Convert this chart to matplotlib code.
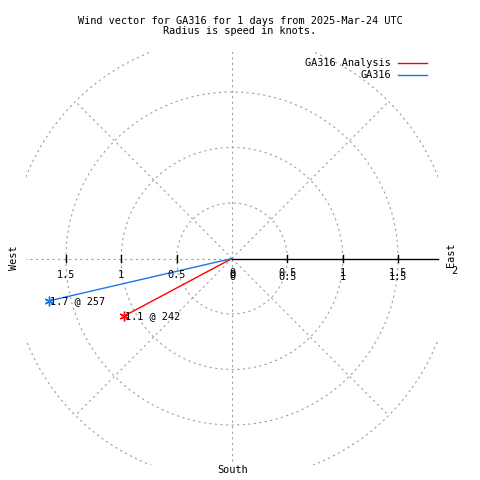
import numpy as np
import matplotlib
matplotlib.use("Agg")
import matplotlib.pyplot as plt
import matplotlib.transforms as mtransforms

# ---- data ----
series_names = ["GA316 Analysis", "GA316"]
speeds = [1.1, 1.7]          # knots
directions = [242, 257]      # degrees, clockwise from north
series_colors = ["#ff0000", "#1a78e6"]
ring_radii = [0.5, 1.0, 1.5, 2.0]
spoke_angles = [0, 45, 90, 135, 180, 225, 270, 315]
tick_values = [0.5, 1.0, 1.5]
left_labels = ["0", "0.5", "1", "1.5"]
left_label_vals = [0.0, 0.5, 1.0, 1.5]
right_labels = ["0", "0.5", "1", "1.5"]
right_label_vals = [0.0, 0.5, 1.0, 1.5]
title_text = "Wind vector for GA316 for 1 days from 2025-Mar-24 UTC\nRadius is speed in knots."

FONT = "DejaVu Sans Mono"
FS = 7.4
GRAY = "#a0a0a0"
LIM = 1.86

fig = plt.figure(figsize=(4.8, 4.8), dpi=100)
ax = fig.add_axes([26 / 480, 15 / 480, 412 / 480, 413 / 480])
ax.set_xlim(-LIM, LIM)
ax.set_ylim(-LIM, LIM)
ax.axis("off")

dash = (0, (2, 3))
th = np.linspace(0, 2 * np.pi, 721)
for r in ring_radii:
    ax.plot(r * np.cos(th), r * np.sin(th), color=GRAY, lw=0.8, linestyle=dash)
for a in spoke_angles:
    if a == 0:
        continue
    rad = np.deg2rad(a)
    ax.plot([0, 2 * np.cos(rad)], [0, 2 * np.sin(rad)], color=GRAY, lw=0.8, linestyle=dash)

# solid east axis
ax.plot([0, LIM], [0, 0], color="black", lw=1.0, clip_on=False)
# ticks
for t in tick_values:
    for s in (-1, 1):
        ax.plot([s * t, s * t], [-0.036, 0.036], color="black", lw=1.0)

# tick labels
def off(dx, dy):
    return mtransforms.offset_copy(ax.transData, fig=fig, x=dx, y=dy, units="dots")

for lab, v in zip(left_labels, left_label_vals):
    ax.text(-v, 0, lab, transform=off(0, -17), ha="center", va="center",
            family=FONT, fontsize=FS)
for lab, v in zip(right_labels, right_label_vals):
    for dy in (-15, -18):
        ax.text(v, 0, lab, transform=off(0, dy), ha="center", va="center",
                family=FONT, fontsize=FS)
ax.text(2.0, 0, "2", transform=off(1, -12), ha="center", va="center",
        family=FONT, fontsize=FS, clip_on=False)

# compass labels
fig.text(14 / 480, 1 - 258 / 480, "West", rotation=90, ha="center", va="center",
         family=FONT, fontsize=FS)
fig.text(451 / 480, 1 - 255 / 480, "East", rotation=90, ha="center", va="center",
         family=FONT, fontsize=FS)
fig.text(233 / 480, 1 - 470 / 480, "South", ha="center", va="center",
         family=FONT, fontsize=FS)

# vectors
for name, spd, d, c in zip(series_names, speeds, directions, series_colors):
    rad = np.deg2rad(d)
    x = spd * np.sin(rad)
    y = spd * np.cos(rad)
    ax.plot([0, x], [0, y], color=c, lw=1.0)
    ax.plot([x], [y], marker=(6, 2, 0), color=c, markersize=7, mew=1.0)
    ax.text(x, y, f"{spd:g} @ {d}", transform=off(1, 0), ha="left", va="center",
            family=FONT, fontsize=FS)

# legend (manual, gnuplot style)
for i, (name, c) in enumerate(zip(series_names, series_colors)):
    ypix = 63 + 12 * i
    fig.text(391 / 480, 1 - ypix / 480, name, ha="right", va="center",
             family=FONT, fontsize=FS)
    fig.add_artist(plt.Line2D([398 / 480, 427 / 480], [1 - ypix / 480, 1 - ypix / 480],
                              color=c, lw=1.0, transform=fig.transFigure))

fig.text(240 / 480, 1 - 26 / 480, title_text, ha="center", va="center",
         family=FONT, fontsize=FS, linespacing=1.1)

fig.savefig("out.png", dpi=100)
